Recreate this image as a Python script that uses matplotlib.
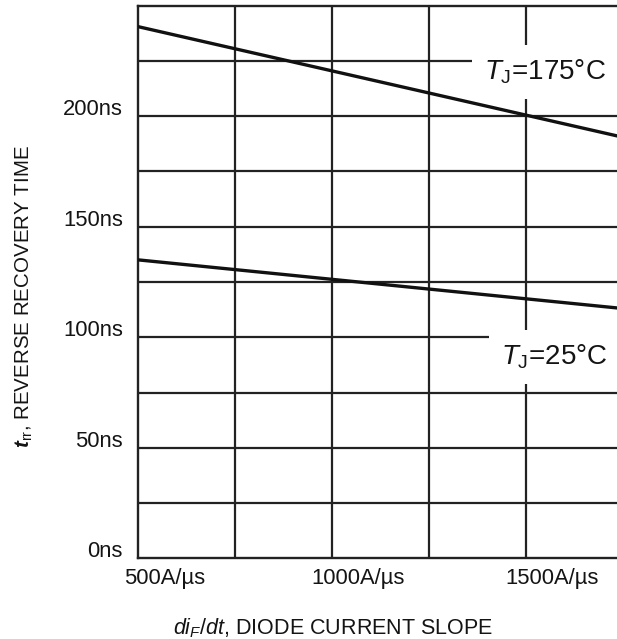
import numpy as np
import matplotlib
matplotlib.use("Agg")
import matplotlib.pyplot as plt
import matplotlib.transforms as mtransforms

plt.rcParams["font.family"] = ["Liberation Sans", "DejaVu Sans"]
plt.rcParams["mathtext.fontset"] = "custom"
plt.rcParams["mathtext.rm"] = "Liberation Sans"
plt.rcParams["mathtext.it"] = "Liberation Sans:italic"
plt.rcParams["mathtext.bf"] = "Liberation Sans:italic:bold"

# Reverse recovery time vs. diode current slope (straight lines, end points)
di_dt = [500, 1750]
trr_175 = [240.5, 190.5]
trr_25 = [135.0, 113.0]

x_ticks = [500, 1000, 1500]
x_tick_labels = ["500A/µs", "1000A/µs", "1500A/µs"]
y_ticks = [0, 50, 100, 150, 200]
y_tick_labels = ["0ns", "50ns", "100ns", "150ns", "200ns"]
x_grid = [750, 1000, 1250, 1500]
y_grid = [25, 50, 75, 100, 125, 150, 175, 200, 225]

text_col = "#141414"
grid_col = "#222222"

fig = plt.figure(figsize=(6.17, 6.39), dpi=100)
ax = fig.add_axes([0.2241, 0.1263, 0.7853, 0.8648])
ax.set_xlim(500, 1750)
ax.set_ylim(0, 250)

for gx in x_grid:
    ax.axvline(gx, color=grid_col, lw=1.6, zorder=1)
for gy in y_grid:
    ax.axhline(gy, color=grid_col, lw=1.6, zorder=1)

ax.plot(di_dt, trr_175, color="#111111", lw=2.4, zorder=3)
ax.plot(di_dt, trr_25, color="#111111", lw=2.4, zorder=3)

for side in ["left", "bottom", "top"]:
    ax.spines[side].set_color(grid_col)
    ax.spines[side].set_linewidth(1.7)
ax.spines["right"].set_visible(False)

ax.set_xticks(x_ticks)
ax.set_xticklabels(x_tick_labels)
ax.set_yticks(y_ticks)
ax.set_yticklabels(y_tick_labels)
ax.tick_params(length=0, labelsize=15.8, colors=text_col)
ax.tick_params(axis="y", pad=11)
ax.tick_params(axis="x", pad=7)

# labels sit right of / above their grid positions
dx = mtransforms.ScaledTranslation(0.26, 0, fig.dpi_scale_trans)
for lbl in ax.get_xticklabels():
    lbl.set_transform(lbl.get_transform() + dx)
dy = mtransforms.ScaledTranslation(0, 0.09, fig.dpi_scale_trans)
for lbl in ax.get_yticklabels():
    lbl.set_transform(lbl.get_transform() + dy)

box = dict(boxstyle="square,pad=0.45", facecolor="white", edgecolor="none")
ax.text(1392, 220, r"$T_{\mathrm{J}}$=175°C", fontsize=20, color=text_col,
        va="center", ha="left", bbox=box, zorder=4)
ax.text(1436, 91, r"$T_{\mathrm{J}}$=25°C", fontsize=20, color=text_col,
        va="center", ha="left", bbox=box, zorder=4)

fig.text(333 / 617, 1 - 628 / 639, r"$di_{F}/dt$, DIODE CURRENT SLOPE",
         fontsize=15.5, color=text_col, ha="center", va="center")
fig.text(24 / 617, 1 - 297 / 639, r"$\mathbf{t}_{\mathrm{rr}}$, REVERSE RECOVERY TIME",
         fontsize=14.8, color=text_col, ha="center", va="center", rotation=90)

fig.savefig("out.png", dpi=100)
